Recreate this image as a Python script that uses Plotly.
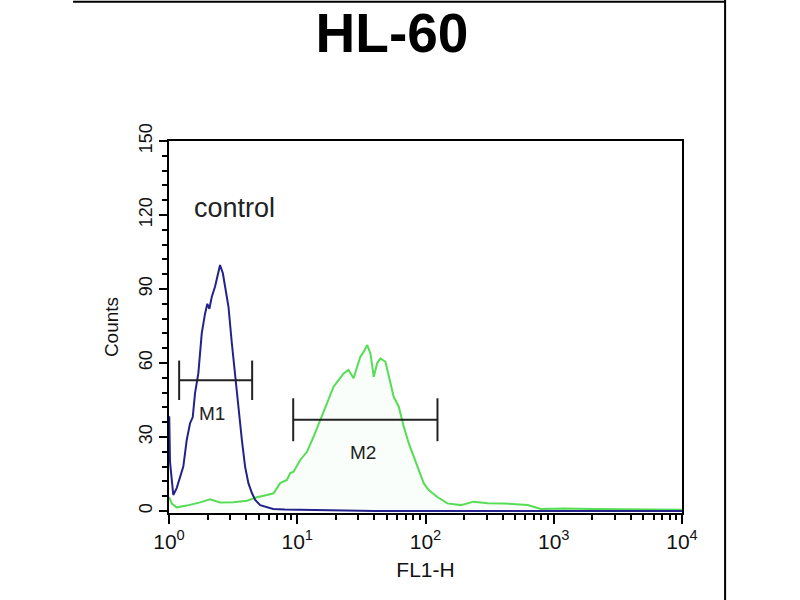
import math
import plotly.graph_objects as go

# ---- data ----
control_x = [1.0, 1.005, 1.018, 1.08, 1.148, 1.219, 1.293, 1.375, 1.459, 1.531, 1.596,
             1.694, 1.80, 1.91, 1.99, 2.065, 2.157, 2.287, 2.43, 2.50, 2.63, 2.74,
             2.91, 3.09, 3.28, 3.48, 3.70, 3.92, 4.16, 4.43, 4.70, 5.14, 5.62, 6.49,
             8.0, 12.0, 20.0, 40.0, 10000.0]
control_y = [38, 38, 20, 6.5, 9.3, 13.9, 18, 28.8, 35.6, 38, 47.8,
             55.9, 72, 80, 84, 82, 86.9, 91, 96.4, 99.7, 96.4, 91,
             82.8, 68, 54.4, 42.3, 28.8, 18, 11.3, 7.3, 4.5, 2.4, 1.7, 0.8,
             0.6, 0.5, 0.3, 0.0, 0.0]

sample_x = [1.0, 1.05, 1.148, 1.375, 1.746, 2.09, 2.50, 3.18, 4.05, 4.84, 5.80, 6.53,
            7.36, 8.31, 8.81, 9.36, 10.55, 11.9, 13.4, 15.1, 17.1, 19.2, 21.0,
            23.0, 25.1, 27.5, 29.3, 31.0, 33.0, 35.1, 37.2, 39.5, 42.0, 44.5,
            48.7, 51.7, 56.5, 61.9, 67.7, 74.1, 81.1, 88.7, 97.0, 106, 123,
            148, 188, 238, 305, 407, 626, 794, 1200, 2000, 3500, 6000, 10000]
sample_y = [5.7, 3.0, 1.5, 2.2, 3.5, 4.8, 3.5, 3.6, 4.2, 5.6, 6.5, 7.2,
            11.3, 12.6, 15.4, 15.9, 20.7, 24, 30.1, 36.9, 43.6, 50.4, 53.1,
            55.8, 57.2, 53.8, 58.5, 62.5, 64.6, 67.3, 63.9, 54.4, 59.9, 61.9,
            60.5, 54.4, 46.3, 42.3, 34.2, 27.4, 22, 16.6, 11.2, 8.5, 5.8,
            3.1, 2.4, 3.8, 3.2, 3.1, 2.4, 0.8, 1.0, 0.8, 0.6, 0.5, 0.5]

gate_names = ["M1", "M2"]
gate_start = [1.2, 9.3]
gate_end = [4.45, 124]
gate_level = [53, 37]
gate_cap = [8, 8.7]
gate_label_x = [2.17, 32.8]
gate_label_y = [39.7, 23.9]

label_text = "control"
label_x = 1.51
label_y = 123

y_ticks = [0, 30, 60, 90, 120, 150]
x_ticks = [1, 10, 100, 1000, 10000]
x_tick_text = ["10<sup>0</sup>", "10<sup>1</sup>", "10<sup>2</sup>", "10<sup>3</sup>", "10<sup>4</sup>"]

FONT = "Liberation Sans, Arial, sans-serif"

fig = go.Figure()

fig.add_trace(go.Scatter(x=sample_x, y=sample_y, mode="lines",
                         line=dict(color="#55dd55", width=2),
                         fill="tozeroy", fillcolor="rgba(170,240,170,0.06)",
                         hoverinfo="skip", showlegend=False))
fig.add_trace(go.Scatter(x=control_x, y=control_y, mode="lines",
                         line=dict(color="#22228a", width=2),
                         hoverinfo="skip", showlegend=False))

for name, a, b, lv, cap, lx, ly in zip(gate_names, gate_start, gate_end, gate_level,
                                        gate_cap, gate_label_x, gate_label_y):
    fig.add_trace(go.Scatter(
        x=[a, b, None, a, a, None, b, b],
        y=[lv, lv, None, lv - cap, lv + cap, None, lv - cap, lv + cap],
        mode="lines", line=dict(color="#222222", width=2),
        hoverinfo="skip", showlegend=False))
    # annotations on a log axis take log10 positions
    fig.add_annotation(x=math.log10(lx), y=ly, xref="x", yref="y", text=name,
                       showarrow=False,
                       font=dict(family=FONT, size=19, color="#222222"))

fig.add_annotation(x=math.log10(label_x), y=label_y, xref="x", yref="y",
                   xanchor="left", text=label_text, showarrow=False,
                   font=dict(family=FONT, size=27, color="#222222"))

# outer frame of the figure (top and right edges)
fig.add_shape(type="line", xref="paper", yref="paper", x0=-0.187, x1=1.084,
              y0=1.374, y1=1.374, line=dict(color="black", width=2))
fig.add_shape(type="line", xref="paper", yref="paper", x0=1.084, x1=1.084,
              y0=1.38, y1=-0.235, line=dict(color="black", width=2))

fig.update_layout(
    width=800, height=600,
    margin=dict(l=169, r=118, t=141, b=87),
    paper_bgcolor="white", plot_bgcolor="white",
    title=dict(text="<b>HL-60</b>", x=0.49, xanchor="center", xref="container",
               y=0.945, yanchor="middle", yref="container",
               font=dict(family=FONT, size=55, color="black")),
    xaxis=dict(type="log", range=[0, 4], tickvals=x_ticks, ticktext=x_tick_text,
               ticks="outside", ticklen=9, tickwidth=2, tickcolor="black",
               minor=dict(ticks="outside", ticklen=5, tickwidth=2, tickcolor="black",
                          dtick="D1", showgrid=False),
               showline=True, linecolor="black", linewidth=2, mirror=True,
               showgrid=False, zeroline=False,
               tickfont=dict(family=FONT, size=21, color="#111111"),
               title=dict(text="FL1-H", standoff=10,
                          font=dict(family=FONT, size=21, color="#111111"))),
    yaxis=dict(range=[-0.8, 150], tickvals=y_ticks, tickangle=-90,
               ticks="outside", ticklen=8, tickwidth=2, tickcolor="black",
               minor=dict(ticks="outside", ticklen=5, tickwidth=2, tickcolor="black",
                          dtick=6, showgrid=False),
               showline=True, linecolor="black", linewidth=2, mirror=True,
               showgrid=False, zeroline=False,
               tickfont=dict(family=FONT, size=18, color="#111111"),
               title=dict(text="Counts", standoff=12,
                          font=dict(family=FONT, size=19, color="#111111"))),
)

fig.write_html("out.html", config={"displayModeBar": False},
               post_script="document.body.style.margin='0';")
